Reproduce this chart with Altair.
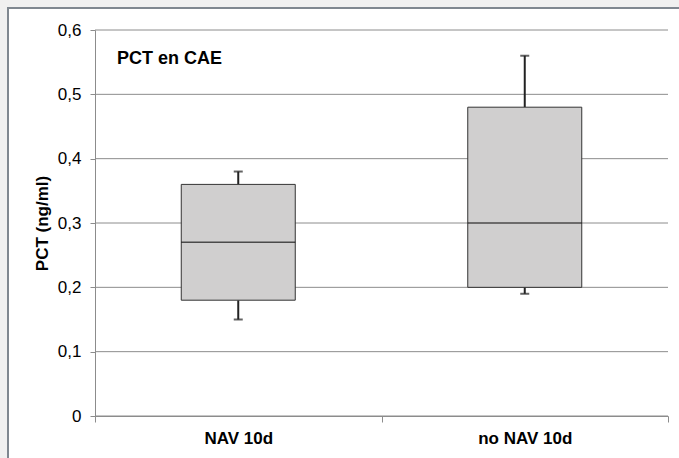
import altair as alt
import pandas as pd

categories = ["NAV 10d", "no NAV 10d"]
whisker_min = [0.15, 0.19]
q1 = [0.18, 0.20]
median = [0.27, 0.30]
q3 = [0.36, 0.48]
whisker_max = [0.38, 0.56]
y_ticks = [0, 0.1, 0.2, 0.3, 0.4, 0.5, 0.6]
chart_title = "PCT en CAE"
y_title = "PCT (ng/ml)"

df = pd.DataFrame({"cat": categories, "lo": whisker_min, "q1": q1,
                   "med": median, "q3": q3, "hi": whisker_max})
ticks_df = pd.DataFrame({"v": y_ticks})

FONT = "Liberation Sans"

x_enc = alt.X("cat:N", sort=categories, title=None,
              scale=alt.Scale(paddingInner=0, paddingOuter=0),
              axis=alt.Axis(labelFont=FONT, labelFontSize=17, labelFontWeight="bold",
                            labelColor="#000", labelAngle=0, labelPadding=8,
                            domainColor="#8c8c8c", tickColor="#8c8c8c", tickSize=6,
                            tickBand="extent", grid=False, zindex=1))
y_scale = alt.Scale(domain=[0, 0.6], nice=False, zero=True)
y_axis = alt.Axis(values=y_ticks, title=y_title, titleFont=FONT, titleFontSize=17,
                  titleFontWeight="bold", titleColor="#000", titlePadding=6,
                  labelFont=FONT, labelFontSize=17, labelColor="#000", labelPadding=9,
                  labelExpr="datum.value == 0 ? '0' : replace(format(datum.value, '.1f'), '.', ',')",
                  domainColor="#8c8c8c", tickColor="#8c8c8c", tickSize=5,
                  grid=False, zindex=1)

frame = alt.Chart(pd.DataFrame({"a": [0]})).mark_rect(
    fill="white", stroke="#7f8790", strokeWidth=2
).encode(x=alt.value(-87), x2=alt.value(700), y=alt.value(-22), y2=alt.value(500))

gridlines = alt.Chart(ticks_df).mark_rule(color="#8c8c8c", strokeWidth=1).encode(
    y=alt.Y("v:Q", scale=y_scale, axis=y_axis), x=alt.value(0), x2=alt.value(573))

base = alt.Chart(df)

upper = base.mark_rule(color="#222", strokeWidth=2).encode(
    x=x_enc, y="q3:Q", y2="hi:Q")
lower = base.mark_rule(color="#222", strokeWidth=2).encode(
    x=alt.X("cat:N", sort=categories), y="lo:Q", y2="q1:Q")
cap_hi = base.mark_tick(color="#222", size=9, thickness=2, orient="horizontal").encode(
    x=alt.X("cat:N", sort=categories), y="hi:Q")
cap_lo = base.mark_tick(color="#222", size=9, thickness=2, orient="horizontal").encode(
    x=alt.X("cat:N", sort=categories), y="lo:Q")
box = base.mark_bar(size=114, fill="#d0cfcf", stroke="#333", strokeWidth=1).encode(
    x=alt.X("cat:N", sort=categories), y="q1:Q", y2="q3:Q")
med = base.mark_tick(color="#111", size=114, thickness=1.5, orient="horizontal").encode(
    x=alt.X("cat:N", sort=categories), y="med:Q")

title = alt.Chart(pd.DataFrame({"t": [chart_title]})).mark_text(
    font=FONT, fontSize=18, fontWeight="bold", color="#000", align="left", baseline="alphabetic"
).encode(text="t:N", x=alt.value(22), y=alt.value(34))

chart = alt.layer(frame, gridlines, upper, lower, cap_hi, cap_lo, box, med, title).properties(
    width=573, height=386,
    padding={"left": 95, "top": 30, "right": 11, "bottom": 42},
    autosize=alt.AutoSizeParams(type="none"),
    background="#f0f0f0",
).configure_view(stroke=None)

chart.save("out.html", embed_options={"renderer": "svg", "actions": False})
